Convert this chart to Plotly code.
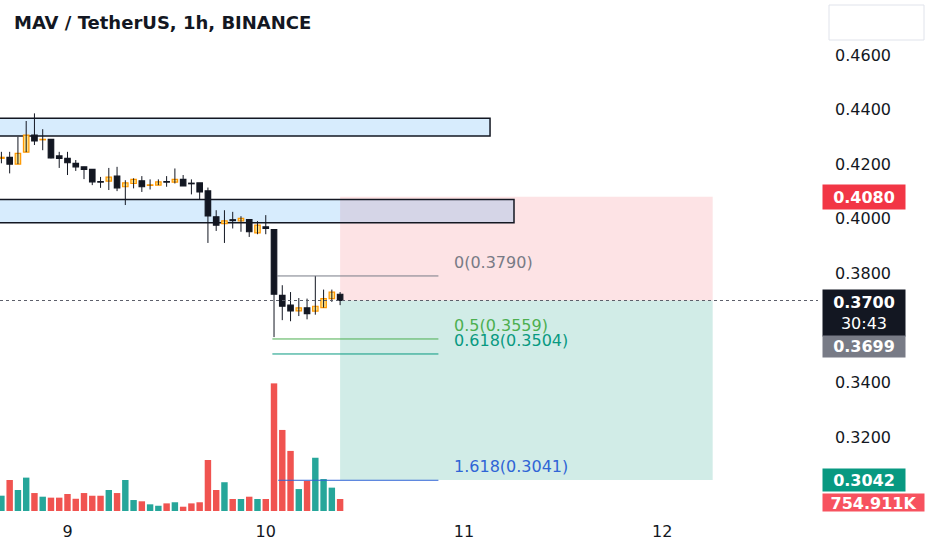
import pandas as pd
import plotly.graph_objects as go

# hourly candles, 8th 16:00 -> 10th 09:00
day10 = pd.Timestamp("2023-07-10 00:00")
times = pd.date_range(day10 - pd.Timedelta(hours=32), periods=42, freq="h")

opens = [0.4221, 0.4225, 0.4200, 0.4244, 0.4306, 0.4289, 0.4291, 0.4230, 0.4221, 0.4203,
         0.4190, 0.4181, 0.4136, 0.4138, 0.4156, 0.4117, 0.4129, 0.4139, 0.4122, 0.4123,
         0.4136, 0.4134, 0.4144, 0.4130, 0.4131, 0.4102, 0.4007, 0.3982, 0.3996, 0.3992,
         0.3997, 0.3948, 0.3970, 0.3960, 0.3719, 0.3683, 0.3662, 0.3673, 0.3661, 0.3674,
         0.3707, 0.3723]
highs = [0.4245, 0.4245, 0.4300, 0.4358, 0.4386, 0.4328, 0.4291, 0.4245, 0.4245, 0.4215,
         0.4190, 0.4181, 0.4153, 0.4186, 0.4190, 0.4141, 0.4148, 0.4156, 0.4144, 0.4144,
         0.4156, 0.4184, 0.4160, 0.4144, 0.4131, 0.4114, 0.4031, 0.4031, 0.4025, 0.4009,
         0.3997, 0.3991, 0.4013, 0.3960, 0.3756, 0.3731, 0.3709, 0.3707, 0.3790, 0.3740,
         0.3740, 0.3731]
lows = [0.4203, 0.4166, 0.4200, 0.4244, 0.4270, 0.4251, 0.4221, 0.4186, 0.4160, 0.4175,
        0.4145, 0.4123, 0.4113, 0.4105, 0.4101, 0.4050, 0.4111, 0.4098, 0.4107, 0.4123,
        0.4117, 0.4129, 0.4120, 0.4089, 0.4070, 0.3911, 0.3955, 0.3911, 0.3964, 0.3952,
        0.3933, 0.3943, 0.3943, 0.3566, 0.3628, 0.3624, 0.3643, 0.3631, 0.3648, 0.3674,
        0.3695, 0.3683]
closes = [0.4225, 0.4200, 0.4239, 0.4306, 0.4285, 0.4291, 0.4223, 0.4221, 0.4205, 0.4190,
          0.4181, 0.4135, 0.4134, 0.4152, 0.4113, 0.4131, 0.4144, 0.4117, 0.4124, 0.4135,
          0.4134, 0.4144, 0.4120, 0.4128, 0.4098, 0.4010, 0.3976, 0.3992, 0.3993, 0.4001,
          0.3952, 0.3976, 0.3964, 0.3723, 0.3679, 0.3662, 0.3673, 0.3652, 0.3679, 0.3707,
          0.3731, 0.3700]
# volume in thousands
volumes = [963, 1950, 1320, 2100, 1130, 900, 840, 840, 1070, 770,
           1130, 960, 960, 1320, 1130, 1950, 690, 610, 420, 330,
           480, 550, 270, 480, 550, 3210, 1320, 1810, 755, 755,
           900, 755, 755, 8030, 5100, 3780, 1380, 1890, 3350, 2010,
           1470, 754.911]

# drawings
zone1 = [0.4303, 0.4368]
zone2 = [0.3985, 0.4070]
entry_price = 0.3700
stop_price = 0.4080
target_price = 0.3042
fib_levels = ["0", "0.5", "0.618", "1.618"]
fib_prices = [0.3790, 0.3559, 0.3504, 0.3041]
fib_colors = ["#787b86", "#4caf50", "#089981", "#2f65d6"]

y_ticks = [0.46, 0.44, 0.42, 0.40, 0.38, 0.34, 0.32]
day_ticks = ["9", "10", "11", "12"]

UP_FILL, UP_LINE, DN = "#ffe082", "#ff9800", "#131722"
VOL_UP, VOL_DN = "#26a69a", "#f05350"
TEXT = "#131722"
FONT = "DejaVu Sans"


def hrs(h):
    return day10 + pd.Timedelta(hours=h)


up = [c >= o for o, c in zip(opens, closes)]

fig = go.Figure()

# volume
fig.add_trace(go.Bar(
    x=times, y=volumes, yaxis="y2",
    marker=dict(color=[VOL_UP if u else VOL_DN for u in up], line=dict(width=0)),
    width=0.78 * 3600e3, hoverinfo="skip",
))

# wicks
wx, wy = [], []
for t, h, l in zip(times, highs, lows):
    wx += [t, t, None]
    wy += [l, h, None]
fig.add_trace(go.Scatter(x=wx, y=wy, mode="lines", line=dict(color=DN, width=1),
                         hoverinfo="skip"))

# bodies
fig.add_trace(go.Bar(
    x=times,
    y=[max(abs(c - o), 0.00015) for o, c in zip(opens, closes)],
    base=[min(o, c) for o, c in zip(opens, closes)],
    marker=dict(color=[UP_FILL if u else DN for u in up],
                line=dict(color=[UP_LINE if u else DN for u in up], width=1.2)),
    width=0.66 * 3600e3, hoverinfo="skip",
))

# long/short position zones
fig.add_shape(type="rect", x0=hrs(9), x1=hrs(54.1), y0=entry_price, y1=stop_price,
              fillcolor="rgba(242,54,69,0.14)", line_width=0, layer="below")
fig.add_shape(type="rect", x0=hrs(9), x1=hrs(54.1), y0=target_price, y1=entry_price,
              fillcolor="rgba(8,153,129,0.19)", line_width=0, layer="below")

# supply zones
fig.add_shape(type="rect", x0=hrs(-40), x1=hrs(27.15), y0=zone1[0], y1=zone1[1],
              fillcolor="rgba(33,150,243,0.18)", line=dict(color=TEXT, width=1.5),
              layer="below")
fig.add_shape(type="rect", x0=hrs(-40), x1=hrs(30.05), y0=zone2[0], y1=zone2[1],
              fillcolor="rgba(33,150,243,0.18)", line=dict(color=TEXT, width=1.5),
              layer="below")

# fib lines and labels
fib_starts = [1.35, 0.8, 0.8, 1.5]
for lvl, p, col, s in zip(fib_levels, fib_prices, fib_colors, fib_starts):
    fig.add_shape(type="line", x0=hrs(s), x1=hrs(20.9), y0=p, y1=p,
                  line=dict(color=col, width=1))
    fig.add_annotation(x=hrs(22.5), y=p, text=f"{lvl}({p:.4f})", showarrow=False,
                       xanchor="left", yanchor="bottom", yshift=2,
                       font=dict(family=FONT, size=16, color=col))

# last price dotted line
fig.add_shape(type="line", xref="paper", x0=0, x1=1, y0=closes[-1], y1=closes[-1],
              line=dict(color="#5d606b", width=1, dash="dot"))

# empty box top right
fig.add_shape(type="rect", xref="paper", yref="paper", x0=829 / 818, x1=924 / 818,
              y0=1 - 40 / 511, y1=1 - 5 / 511, line=dict(color="#e0e3eb", width=1),
              fillcolor="white")

# price scale labels
lx = 822 / 818
lab = dict(xref="paper", x=lx, xanchor="left", showarrow=False, width=80, borderpad=1,
           font=dict(family=FONT, size=16, color="white"))
fig.add_annotation(y=stop_price, text=f"<b>{stop_price:.4f}</b>", bgcolor="#f23645",
                   height=22, **lab)
fig.add_annotation(y=closes[-1], yanchor="top", yshift=12,
                   text=f"<b>{closes[-1]:.4f}</b><br>30:43", bgcolor="#131722",
                   height=44, **lab)
fig.add_annotation(y=closes[-1], yanchor="top", yshift=-34, text="<b>0.3699</b>",
                   bgcolor="#787b86", height=19, **lab)
fig.add_annotation(y=target_price, text=f"<b>{target_price:.4f}</b>", bgcolor="#089981",
                   height=20, **lab)
fig.add_annotation(xref="paper", x=lx, yref="paper", y=1 - 493 / 511, yanchor="top",
                   xanchor="left", showarrow=False, width=101, height=17, borderpad=0,
                   valign="top", text=f"<b>{volumes[-1]:.3f}K</b>", bgcolor="#f7525f",
                   font=dict(family=FONT, size=16, color="white"))

# title
fig.add_annotation(xref="paper", yref="paper", x=12 / 818, y=1 - 22 / 511,
                   xanchor="left", yanchor="middle", showarrow=False,
                   text="<b>MAV / TetherUS, 1h, BINANCE</b>",
                   font=dict(family=FONT, size=18, color=TEXT))

fig.update_layout(
    width=932, height=550,
    margin=dict(l=0, r=114, t=0, b=39),
    paper_bgcolor="white", plot_bgcolor="white",
    showlegend=False, barmode="overlay", hovermode=False,
    xaxis=dict(type="date", range=[hrs(-32.17), hrs(66.85)],
               tickvals=[hrs(h) for h in (-24, 0, 24, 48)], ticktext=day_ticks,
               showgrid=False, zeroline=False, showline=False, ticks="",
               ticklabelstandoff=9, tickfont=dict(family=FONT, size=16, color=TEXT)),
    yaxis=dict(side="right", range=[0.29284, 0.48016], tickvals=y_ticks,
               ticktext=[f"{v:.4f}" for v in y_ticks], showgrid=False, zeroline=False,
               ticks="", ticklabelstandoff=16,
               tickfont=dict(family=FONT, size=16, color=TEXT)),
    yaxis2=dict(overlaying="y", range=[0, 32150], visible=False),
)

# the page body has a default margin; drop it so the chart sits at the corner
fig.write_html("out.html", config={"displayModeBar": False},
               post_script="document.body.style.margin='0';")
